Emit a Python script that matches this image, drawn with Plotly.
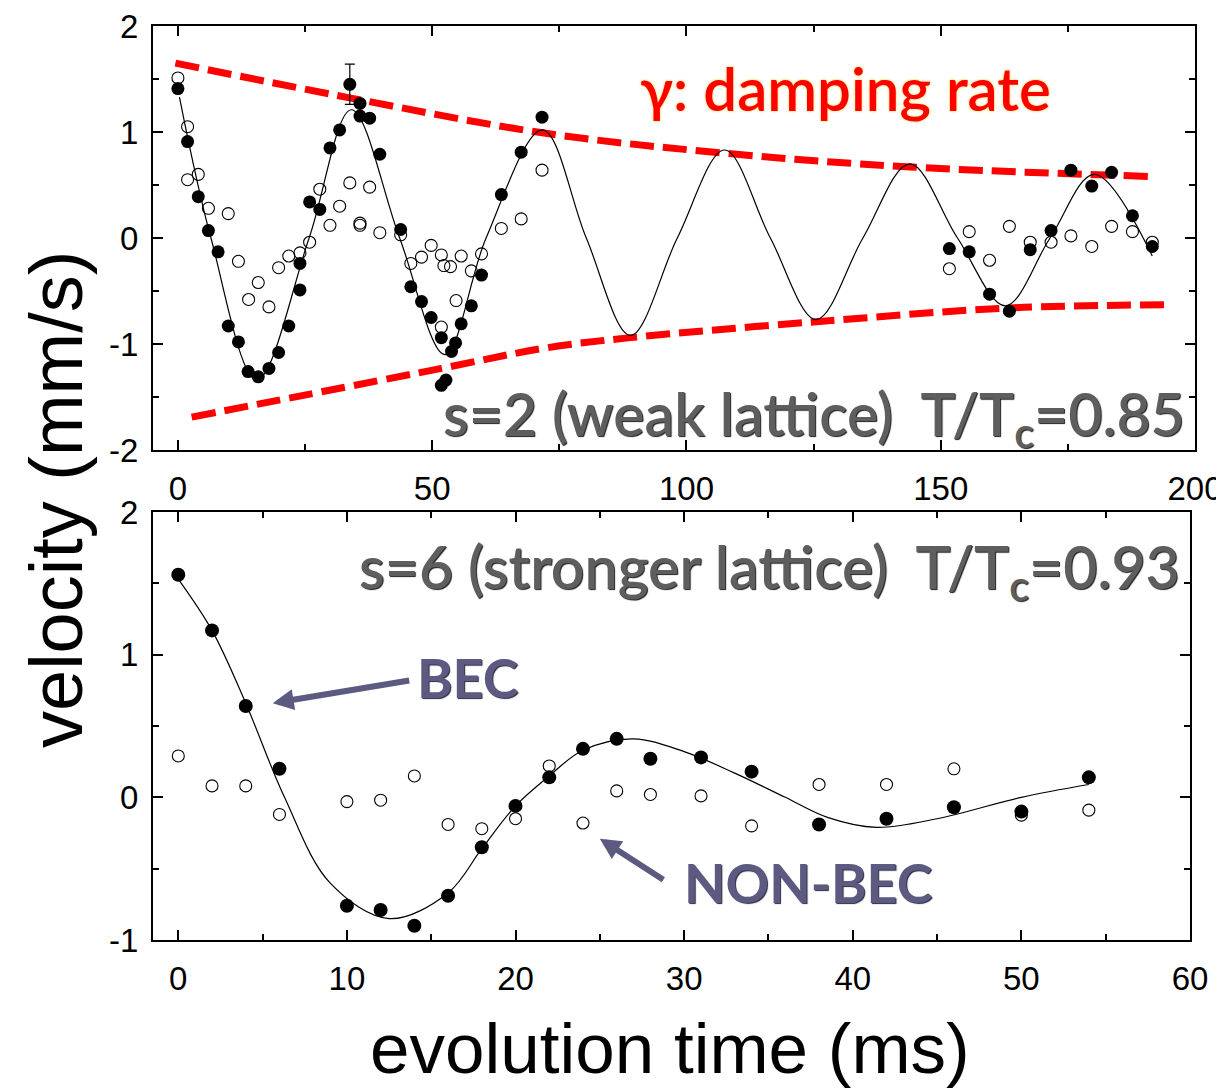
import plotly.graph_objects as go

# ---------------- data: top panel (s=2) ----------------
top_bec_x = [0, 1.9, 4.0, 6.0, 7.9, 9.9, 11.9, 13.8, 15.8, 17.9, 19.8, 21.8, 24.0, 24.0, 25.9, 27.9,
             29.9, 31.8, 35.8, 35.8, 37.7, 39.7, 43.8, 45.8, 47.9, 49.8, 51.8, 51.8, 52.7, 53.8, 54.6,
             55.7, 57.7, 59.7, 63.6, 67.5, 71.6,
             151.7, 155.6, 159.6, 163.5, 167.6, 171.7, 175.6, 179.7, 183.6, 187.7, 191.6]
top_bec_y = [1.41, 0.91, 0.39, 0.07, -0.13, -0.83, -0.98, -1.26, -1.31, -1.23, -1.08, -0.83, -0.49, -0.24, 0.34, 0.27,
             0.85, 1.02, 1.27, 1.15, 1.13, 0.79, 0.08, -0.46, -0.60, -0.75, -0.94, -1.39, -1.34, -1.07, -0.99,
             -0.81, -0.64, -0.35, 0.41, 0.81, 1.14,
             -0.10, -0.13, -0.53, -0.69, -0.11, 0.07, 0.64, 0.49, 0.62, 0.21, -0.08]

top_err_x = [33.8]
top_err_y = [1.45]
top_err_val = [0.19]

top_non_x = [0, 1.9, 1.9, 4.0, 6.0, 9.9, 11.9, 13.9, 15.8, 17.9, 19.8, 21.8, 24.0, 25.9, 27.9, 29.9,
             31.8, 33.8, 35.8, 35.8, 37.7, 39.7, 43.8, 45.8, 47.9, 49.8, 51.8, 52.3, 53.6, 55.7, 57.7,
             59.7, 54.7, 51.8, 63.6, 67.5, 71.6,
             151.7, 155.6, 159.6, 163.5, 167.6, 171.7, 175.6, 179.7, 183.6, 187.7, 191.6]
top_non_y = [1.51, 1.05, 0.55, 0.60, 0.28, 0.23, -0.22, -0.58, -0.42, -0.65, -0.28, -0.17, -0.14, -0.04, 0.46, 0.12,
             0.30, 0.52, 0.14, 0.12, 0.48, 0.05, 0.03, -0.24, -0.18, -0.07, -0.16, -0.26, -0.27, -0.17, -0.31,
             -0.15, -0.59, -0.84, 0.09, 0.18, 0.64,
             -0.29, 0.06, -0.21, 0.11, -0.04, -0.04, 0.02, -0.08, 0.11, 0.06, -0.04]

top_fit_x = [0.3, 6.5, 15.5, 25.8, 34.1, 43.6, 52.5, 60.6, 71.7, 80.3, 89.0, 98.2, 107.5, 116.5,
             125.5, 134.7, 143.9, 153.3, 162.7, 171.5, 180.2, 191.6]
top_fit_y = [1.33, 0.0, -1.34, 0.0, 1.21, 0.0, -1.10, 0.0, 1.02, 0.0, -0.92, 0.0, 0.83, 0.0,
             -0.77, 0.0, 0.70, 0.0, -0.64, 0.0, 0.60, -0.17]

env_up_x = [-0.5, 34, 72, 107.5, 144, 191.5]
env_up_y = [1.65, 1.32, 0.99, 0.80, 0.67, 0.58]
env_lo_x = [2.7, 51.8, 72, 89, 125.5, 163.5, 194.6]
env_lo_y = [-1.69, -1.23, -1.04, -0.94, -0.79, -0.66, -0.63]

# ---------------- data: bottom panel (s=6) ----------------
bot_x = [0, 2, 4, 6, 10, 12, 14, 16, 18, 20, 22, 24, 26, 28, 31, 34, 38, 42, 46, 50, 54]
bot_bec_y = [1.56, 1.17, 0.64, 0.20, -0.76, -0.79, -0.90, -0.69, -0.35, -0.06, 0.14, 0.34, 0.41, 0.27,
             0.28, 0.18, -0.19, -0.15, -0.07, -0.10, 0.14]
bot_non_y = [0.29, 0.08, 0.08, -0.12, -0.03, -0.02, 0.15, -0.19, -0.22, -0.15, 0.22, -0.18, 0.045, 0.02,
             0.01, -0.20, 0.09, 0.09, 0.20, -0.125, -0.09]

bot_fit_x = [0, 2, 4, 6.3, 9, 12.5, 16, 18, 20, 22, 24, 27, 30, 33, 36, 38.5, 41.4, 45, 50, 54]
bot_fit_y = [1.53, 1.17, 0.66, 0.0, -0.60, -0.85, -0.67, -0.36, -0.06, 0.15, 0.33, 0.41, 0.32, 0.17,
             0.0, -0.14, -0.21, -0.15, 0.0, 0.09]

top_xticks = [0, 50, 100, 150, 200]
top_yticks = [-2, -1, 0, 1, 2]
bot_xticks = [0, 10, 20, 30, 40, 50, 60]
bot_yticks = [-1, 0, 1, 2]

# ---------------- figure ----------------
OFF = 8                      # page body margin of the html page
W, H = 1224 - OFF, 1091 - OFF


def PX(p):
    return (p - OFF) / W


def PY(p):
    return 1 - (p - OFF) / H


TICKFONT = dict(family="Liberation Sans, Arial", size=33, color="black")
fig = go.Figure()

red = "#ff0000"
fig.add_trace(go.Scatter(x=env_up_x, y=env_up_y, mode="lines", line=dict(color=red, width=7, dash="24px,9px", shape="spline"),
                         xaxis="x", yaxis="y", hoverinfo="skip"))
fig.add_trace(go.Scatter(x=env_lo_x, y=env_lo_y, mode="lines", line=dict(color=red, width=7, dash="24px,9px", shape="spline"),
                         xaxis="x", yaxis="y", hoverinfo="skip"))
fig.add_trace(go.Scatter(x=top_fit_x, y=top_fit_y, mode="lines", line=dict(color="black", width=1.2, shape="spline", smoothing=1.0),
                         xaxis="x", yaxis="y"))
fig.add_trace(go.Scatter(x=top_non_x, y=top_non_y, mode="markers",
                         marker=dict(symbol="circle-open", size=12, color="black", line=dict(width=1.1)),
                         xaxis="x", yaxis="y"))
fig.add_trace(go.Scatter(x=top_bec_x, y=top_bec_y, mode="markers",
                         marker=dict(symbol="circle", size=13, color="black"), xaxis="x", yaxis="y"))
fig.add_trace(go.Scatter(x=top_err_x, y=top_err_y, mode="markers",
                         marker=dict(symbol="circle", size=13, color="black"),
                         error_y=dict(type="data", array=top_err_val, visible=True, color="black", thickness=1.2, width=5),
                         xaxis="x", yaxis="y"))

fig.add_trace(go.Scatter(x=bot_fit_x, y=bot_fit_y, mode="lines", line=dict(color="black", width=1.2, shape="spline"),
                         xaxis="x2", yaxis="y2"))
fig.add_trace(go.Scatter(x=bot_x, y=bot_non_y, mode="markers",
                         marker=dict(symbol="circle-open", size=12, color="black", line=dict(width=1.1)),
                         xaxis="x2", yaxis="y2"))
fig.add_trace(go.Scatter(x=bot_x, y=bot_bec_y, mode="markers",
                         marker=dict(symbol="circle", size=14, color="black"), xaxis="x2", yaxis="y2"))


def axis(rng, dom, vals, minor, anchor, standoff):
    return dict(range=rng, domain=dom, tickvals=vals, ticktext=[str(v) for v in vals],
                showline=True, linecolor="black", linewidth=2, mirror="allticks",
                ticks="inside", ticklen=10, tickwidth=1.5, tickcolor="black",
                minor=dict(ticks="inside", dtick=minor, ticklen=6, tickwidth=1.5, tickcolor="black"),
                showgrid=False, zeroline=False, tickfont=TICKFONT, anchor=anchor,
                ticklabelstandoff=standoff, automargin=False, ticklabeloverflow="allow")


fig.update_layout(
    width=W, height=H, margin=dict(l=0, r=0, t=0, b=0, autoexpand=False),
    paper_bgcolor="white", plot_bgcolor="white", showlegend=False,
    xaxis=axis([-4.9, 200], [PX(153), PX(1195)], top_xticks, 25, "y", 8),
    yaxis=axis([-2, 2], [PY(450), PY(26)], top_yticks, 0.5, "x", 6),
    xaxis2=axis([-1.5, 60], [PX(153), PX(1190)], bot_xticks, 5, "y2", 8),
    yaxis2=axis([-1, 2], [PY(940), PY(512)], bot_yticks, 0.5, "x2", 6),
)

GRAY = "#5e5e5e"
PURPLE = "#5c5a80"
CAL = "Lato, Noto Sans, sans-serif"
ann = []
ann.append(dict(text="γ: damping rate", xref="paper", yref="paper", x=PX(845), y=PY(88),
                xanchor="center", yanchor="middle",
                showarrow=False, font=dict(family=CAL, size=60, color=red, weight=600,
                                           shadow="0px 0px 3px #f3e27a, 0px 0px 2px #f3e27a")))
ann.append(dict(text="s=2 (weak lattice)  T/T<sub>c</sub>=0.85", xref="paper", yref="paper",
                x=PX(1187), y=PY(418), xanchor="right", yanchor="middle", showarrow=False,
                font=dict(family=CAL, size=59, color=GRAY, weight=600, shadow="1px 1px 1px #1e1e1e")))
ann.append(dict(text="s=6 (stronger lattice)  T/T<sub>c</sub>=0.93", xref="paper", yref="paper",
                x=PX(1182), y=PY(570), xanchor="right", yanchor="middle", showarrow=False,
                font=dict(family=CAL, size=59, color=GRAY, weight=600, shadow="1px 1px 1px #1e1e1e")))
ann.append(dict(text="<b>BEC</b>", xref="x2", yref="y2", x=17.2, y=0.84, showarrow=False,
                xanchor="center", yanchor="middle",
                font=dict(family=CAL, size=54, color=PURPLE, shadow="1px 1px 1px #2a2840")))
ann.append(dict(text="<b>NON-BEC</b>", xref="x2", yref="y2", x=37.4, y=-0.60, showarrow=False,
                xanchor="center", yanchor="middle",
                font=dict(family=CAL, size=54, color=PURPLE, shadow="1px 1px 1px #2a2840")))
ann.append(dict(text="", xref="x2", yref="y2", x=5.6, y=0.66, ax=138, ay=-23, showarrow=True,
                arrowhead=2, arrowsize=0.7, arrowwidth=6, arrowcolor=PURPLE))
ann.append(dict(text="", xref="x2", yref="y2", x=25.0, y=-0.29, ax=65, ay=42, showarrow=True,
                arrowhead=2, arrowsize=0.7, arrowwidth=6, arrowcolor=PURPLE))
ann.append(dict(text="velocity (mm/s)", xref="paper", yref="paper", x=PX(56), y=PY(500), textangle=-90,
                xanchor="center", yanchor="middle",
                showarrow=False, font=dict(family="Liberation Sans, Arial", size=74, color="black")))
ann.append(dict(text="evolution time (ms)", xref="paper", yref="paper", x=PX(670), y=PY(1048),
                xanchor="center", yanchor="middle",
                showarrow=False, font=dict(family="Liberation Sans, Arial", size=71, color="black")))
fig.update_layout(annotations=ann)

fig.write_html("out.html")
